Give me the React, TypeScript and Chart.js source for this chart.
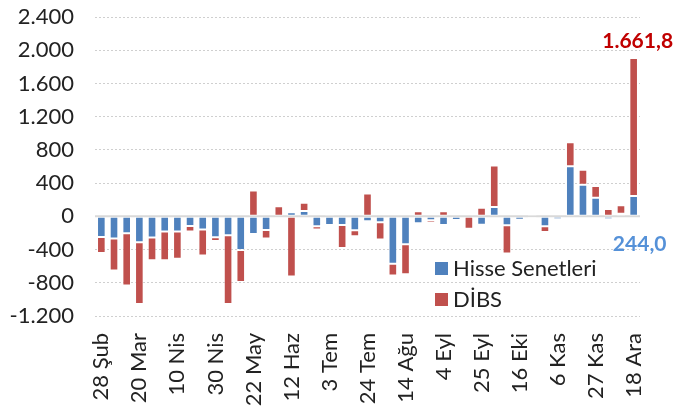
import { useEffect, useRef } from 'react';
import { Chart, registerables } from 'chart.js';

Chart.register(...registerables);

const categories = [
  '28 Şub', '6 Mar', '13 Mar', '20 Mar', '27 Mar', '3 Nis', '10 Nis', '17 Nis', '24 Nis', '30 Nis',
  '8 May', '15 May', '22 May', '29 May', '5 Haz', '12 Haz', '19 Haz', '26 Haz', '3 Tem', '10 Tem',
  '17 Tem', '24 Tem', '31 Tem', '7 Ağu', '14 Ağu', '21 Ağu', '28 Ağu', '4 Eyl', '11 Eyl', '18 Eyl',
  '25 Eyl', '2 Eki', '9 Eki', '16 Eki', '23 Eki', '30 Eki', '6 Kas', '13 Kas', '20 Kas', '27 Kas',
  '4 Ara', '11 Ara', '18 Ara',
];

const hisseSenetleri = [
  -250, -268, -204, -312, -256, -184, -184, -116, -160, -252,
  -228, -404, -212, -164, -16, 48, 64, -120, -104, -104,
  -168, -60, -72, -572, -336, -84, -48, -104, -44, 10,
  -100, 112, -108, -40, -20, -120, -36, 604, 380, 224,
  -36, 32, 244.0,
];

const dibs = [
  -192, -384, -628, -744, -272, -344, -328, -68, -312, -44,
  -828, -388, 312, -104, 120, -724, 100, -38, 24, -276,
  -72, 276, -208, -140, -360, 60, -28, 60, -16, -150,
  104, 500, -340, -12, 28, -68, -12, 288, 180, 140,
  88, 100, 1661.8,
];

const seriesNames = ['Hisse Senetleri', 'DİBS'];
const seriesColors = ['#4F81BD', '#C0504D'];
const yMin = -1200;
const yMax = 2400;
const yStep = 400;
const labelEvery = 3;

function fmtTR(v: number, decimals = 0): string {
  const neg = v < 0;
  const fixed = Math.abs(v).toFixed(decimals);
  const [intPart, dec] = fixed.split('.');
  const withSep = intPart.replace(/\B(?=(\d{3})+(?!\d))/g, '.');
  return (neg ? '-' : '') + withSep + (dec ? ',' + dec : '');
}

const FONT = 'Lato';

const overlayPlugin = {
  id: 'overlay',
  beforeDatasetsDraw(chart: any) {
    const { ctx, chartArea, scales } = chart;
    const y0 = scales.y.getPixelForValue(0);
    ctx.save();
    ctx.strokeStyle = '#D9D9D9';
    ctx.lineWidth = 2;
    ctx.beginPath();
    ctx.moveTo(chartArea.left, y0);
    ctx.lineTo(chartArea.right, y0);
    ctx.stroke();
    ctx.restore();
  },
  afterDatasetsDraw(chart: any) {
    const { ctx, chartArea, scales } = chart;
    const last = categories.length - 1;
    const redEl = chart.getDatasetMeta(1).data[last];
    const blueEl = chart.getDatasetMeta(0).data[last];
    const y0 = scales.y.getPixelForValue(0);
    ctx.save();
    ctx.font = `bold 21px ${FONT}`;
    ctx.textAlign = 'center';
    ctx.textBaseline = 'alphabetic';
    ctx.fillStyle = '#C00000';
    ctx.fillText(fmtTR(dibs[last], 1), redEl.x + 4, redEl.y - 10);
    ctx.fillStyle = '#5591D8';
    ctx.fillText(fmtTR(hisseSenetleri[last], 1), blueEl.x + 6, y0 + 35);

    // legend
    ctx.font = `22px ${FONT}`;
    ctx.textAlign = 'left';
    ctx.textBaseline = 'middle';
    const lx = chartArea.right - 205;
    const rows = [chartArea.top + 245, chartArea.top + 276];
    seriesNames.forEach((name, i) => {
      ctx.fillStyle = seriesColors[i];
      ctx.fillRect(lx, rows[i], 13, 13);
      ctx.fillStyle = '#222222';
      ctx.fillText(name, lx + 18, rows[i] + 7);
    });
    ctx.restore();
  },
};

export default function App() {
  const canvasRef = useRef<HTMLCanvasElement | null>(null);

  useEffect(() => {
    if (!canvasRef.current) return;
    Chart.defaults.font.family = FONT;
    const chart = new Chart(canvasRef.current, {
      type: 'bar',
      data: {
        labels: categories,
        datasets: [
          {
            label: seriesNames[0],
            data: hisseSenetleri,
            backgroundColor: seriesColors[0],
            borderColor: 'rgba(255,255,255,0.4)',
            borderWidth: 1,
            borderSkipped: false,
            barPercentage: 0.68,
            categoryPercentage: 1,
          },
          {
            label: seriesNames[1],
            data: dibs,
            backgroundColor: seriesColors[1],
            borderColor: 'rgba(255,255,255,0.4)',
            borderWidth: 1,
            borderSkipped: false,
            barPercentage: 0.68,
            categoryPercentage: 1,
          },
        ],
      },
      options: {
        animation: false,
        responsive: true,
        maintainAspectRatio: false,
        layout: { padding: { top: 17, right: 49, left: 0, bottom: 0 } },
        plugins: {
          legend: { display: false },
          tooltip: { enabled: false },
        },
        scales: {
          x: {
            stacked: true,
            grid: { display: false },
            border: { display: false },
            ticks: {
              autoSkip: false,
              minRotation: 90,
              maxRotation: 90,
              padding: 9,
              color: '#222222',
              font: { size: 22, family: FONT },
              callback: (_v: any, i: number) => (i % labelEvery === 0 ? categories[i] : ''),
            },
            afterFit: (scale: any) => {
              scale.height = 94;
            },
          },
          y: {
            stacked: true,
            min: yMin,
            max: yMax,
            grid: {
              drawTicks: false,
              color: (c: any) => (c.tick && c.tick.value === 0 ? 'rgba(0,0,0,0)' : '#CFCFCF'),
              lineWidth: 1,
            },
            border: { display: false, dash: [2, 2] },
            ticks: {
              stepSize: yStep,
              padding: 21,
              color: '#222222',
              font: { size: 22, family: FONT },
              callback: (v: any) => fmtTR(Number(v)),
            },
            afterFit: (scale: any) => {
              scale.width = 95;
              scale.paddingTop = 0;
              scale.paddingBottom = 0;
            },
          },
        },
      },
      plugins: [overlayPlugin],
    });
    return () => chart.destroy();
  }, []);

  return (
    <div style={{ position: 'fixed', left: 0, top: 0, width: 689, height: 410, background: '#fff' }}>
      <canvas ref={canvasRef} />
    </div>
  );
}
